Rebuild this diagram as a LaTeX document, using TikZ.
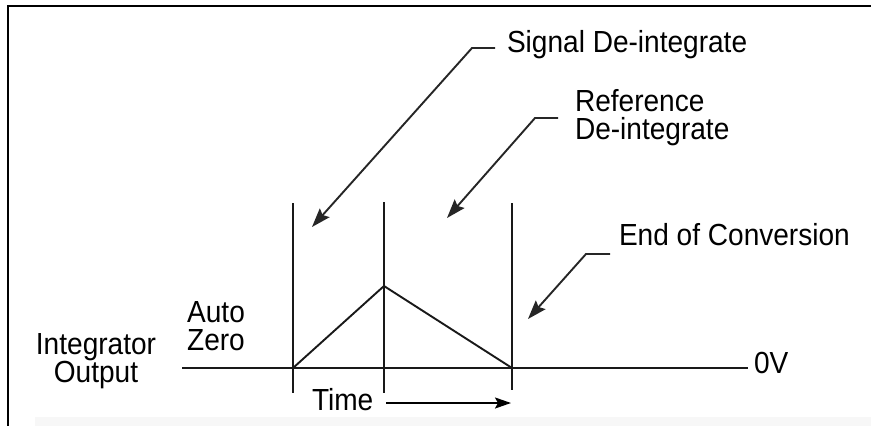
\documentclass[tikz,border=0pt]{standalone}
\usepackage{fontspec}
\setmainfont[FakeStretch=0.92]{Liberation Sans}
\usetikzlibrary{arrows.meta}

\begin{document}
\begin{tikzpicture}[x=1pt,y=-1pt,
  every node/.style={inner sep=0pt, outer sep=0pt, font=\fontsize{30.5}{28}\selectfont},
  wire/.style={line width=1.9pt, black!90},
  leader/.style={line width=1.9pt, black!85, -{Stealth[length=19pt,width=13pt,inset=3pt]}},
  timearrow/.style={line width=1.9pt, -{Stealth[length=16pt,width=11pt,inset=3pt]}},
  lbl/.style={align=left},
  clbl/.style={align=center}]

  % page extent
  \useasboundingbox (0,0) rectangle (871,426);
  \fill[black!3] (35,417) rectangle (871,426);

  % frame (left and top edges)
  \draw[line width=2.6pt] (8,426) -- (8,6) -- (871,6);

  % labels
  \node[anchor=base west] (sig) at (507,52) {Signal De-integrate};
  \node[lbl, anchor=north west] (ref) at (575,89) {Reference\\De-integrate};
  \node[anchor=base west] (eoc) at (619,245) {End of Conversion};
  \node[anchor=base west] (ov) at (754,373) {0V};
  \node[clbl, anchor=north] (intout) at (96,334) {Integrator\\Output};
  \node[clbl, anchor=north] (az) at (216,302) {Auto\\Zero};
  \node[anchor=base west] (time) at (312,410) {Time};

  % zero-volt axis
  \coordinate (axL) at (182,368);
  \coordinate (axR) at (748,368);
  \draw[wire] (axL) -- (axR);

  % phase boundaries
  \coordinate (p1t) at (293,203); \coordinate (p1b) at (293,393);
  \coordinate (p2t) at (384,202); \coordinate (p2b) at (384,393);
  \coordinate (p3t) at (512,203); \coordinate (p3b) at (512,390);
  \draw[wire] (p1t) -- (p1b);
  \draw[wire] (p2t) -- (p2b);
  \draw[wire] (p3t) -- (p3b);

  % integrator ramp
  \coordinate (rs) at (293,368);
  \coordinate (pk) at (384,286);
  \coordinate (re) at (512,368);
  \draw[wire, line join=round] (rs) -- (pk) -- (re);

  % leaders with arrows
  \coordinate (sigA) at (495,48);  \coordinate (sigK) at (472,48);  \coordinate (sigT) at (312,227);
  \coordinate (refA) at (558,118); \coordinate (refK) at (535,118); \coordinate (refT) at (447,218);
  \coordinate (eocA) at (610,254); \coordinate (eocK) at (586,254); \coordinate (eocT) at (528,319);
  \draw[leader] (sigA) -- (sigK) -- (sigT);
  \draw[leader] (refA) -- (refK) -- (refT);
  \draw[leader] (eocA) -- (eocK) -- (eocT);

  % time direction
  \coordinate (tEnd) at (511,403);
  \draw[timearrow] ([xshift=13pt]time.east |- tEnd) -- (tEnd);
\end{tikzpicture}
\end{document}
